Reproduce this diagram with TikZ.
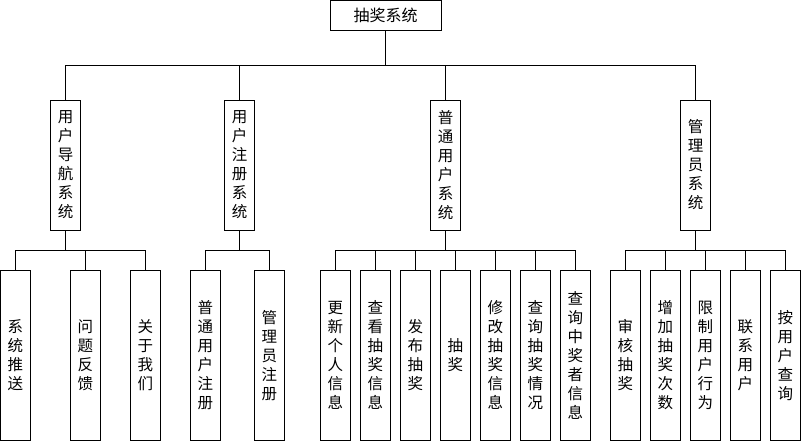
\documentclass[tikz,border=0pt]{standalone}
\usepackage{fontspec}
\setmainfont{Noto Sans CJK SC}
\usetikzlibrary{positioning}

\tikzset{
  sysbox/.style={draw, line width=0.9pt, inner sep=0pt, minimum width=30pt,
    minimum height=130pt, align=center, font=\fontsize{15.5}{19}\selectfont},
  leafbox/.style={sysbox, minimum height=170pt},
  rootbox/.style={draw, line width=0.9pt, inner sep=0pt, minimum width=111pt,
    minimum height=30pt, font=\fontsize{16}{19}\selectfont},
  link/.style={line width=0.9pt}
}

\begin{document}
\begin{tikzpicture}[x=1pt,y=-1pt]
\useasboundingbox (0,0) rectangle (801,441);

% top
\node[rootbox] (root) at (385.5,15) {抽奖系统};

% subsystems
\node[sysbox] (nav)   at (65.5,165)  {用\\户\\导\\航\\系\\统};
\node[sysbox] (reg)   at (239.5,165) {用\\户\\注\\册\\系\\统};
\node[sysbox] (user)  at (445.5,165) {普\\通\\用\\户\\系\\统};
\node[sysbox] (admin) at (695.5,165) {管\\理\\员\\系\\统};

\foreach \s in {nav,reg,user,admin}
  \draw[link] (root.south) -- ++(0,35) -| (\s.north);

% leaves of nav
\node[leafbox] (push)  at (15.3,355.3)  {系\\统\\推\\送};
\node[leafbox] (fb)    at (85.3,355.3)  {问\\题\\反\\馈};
\node[leafbox] (about) at (145.3,355.3) {关\\于\\我\\们};
\foreach \l in {push,fb,about}
  \draw[link] (nav.south) -- ++(0,20) -| (\l.north);

% leaves of reg
\node[leafbox] (ureg) at (205.3,355.3) {普\\通\\用\\户\\注\\册};
\node[leafbox] (areg) at (269.3,355.3) {管\\理\\员\\注\\册};
\foreach \l in {ureg,areg}
  \draw[link] (reg.south) -- ++(0,20) -| (\l.north);

% leaves of user
\node[leafbox] (upd)   at (335.3,355.3) {更\\新\\个\\人\\信\\息};
\node[leafbox] (view)  at (375.3,355.3) {查\\看\\抽\\奖\\信\\息};
\node[leafbox] (pub)   at (415.3,355.3) {发\\布\\抽\\奖};
\node[leafbox] (draw)  at (455.3,355.3) {抽\\奖};
\node[leafbox] (edit)  at (495.3,355.3) {修\\改\\抽\\奖\\信\\息};
\node[leafbox] (stat)  at (535.3,355.3) {查\\询\\抽\\奖\\情\\况};
\node[leafbox] (win)   at (575.3,355.3) {查\\询\\中\\奖\\者\\信\\息};
\foreach \l in {upd,view,pub,draw,edit,stat,win}
  \draw[link] (user.south) -- ++(0,20) -| (\l.north);

% leaves of admin
\node[leafbox] (audit) at (625.3,355.3) {审\\核\\抽\\奖};
\node[leafbox] (more)  at (665.3,355.3) {增\\加\\抽\\奖\\次\\数};
\node[leafbox] (limit) at (705.3,355.3) {限\\制\\用\\户\\行\\为};
\node[leafbox] (cont)  at (745.3,355.3) {联\\系\\用\\户};
\node[leafbox] (find)  at (785.3,355.3) {按\\用\\户\\查\\询};
\foreach \l in {audit,more,limit,cont,find}
  \draw[link] (admin.south) -- ++(0,20) -| (\l.north);

\end{tikzpicture}
\end{document}
